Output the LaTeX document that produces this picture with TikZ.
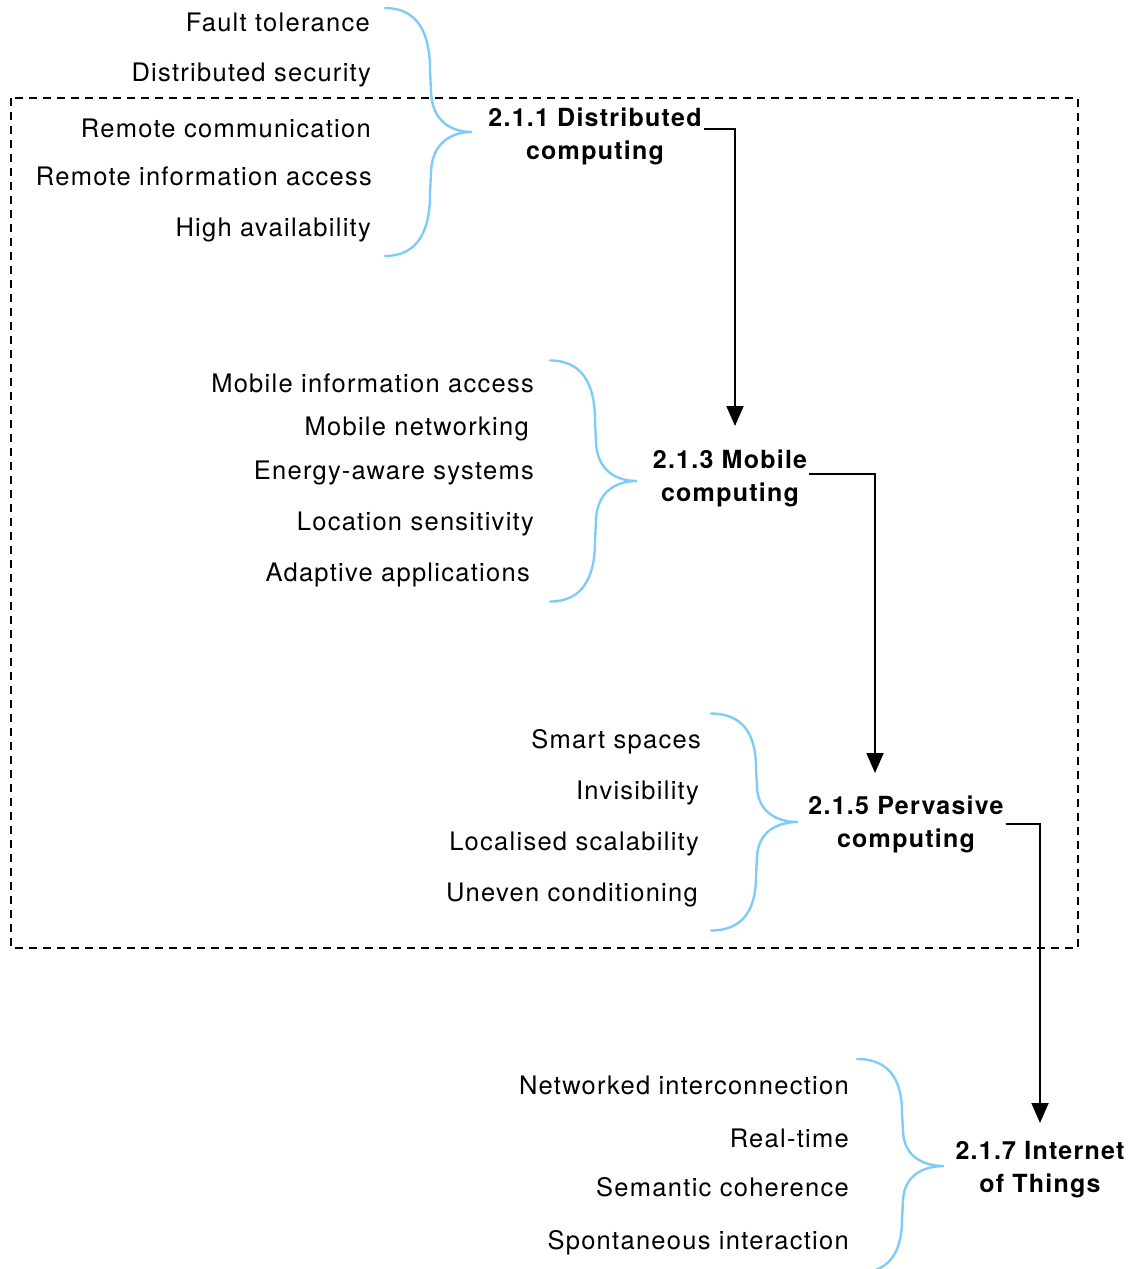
\documentclass[tikz,border=0pt]{standalone}
\usepackage{fontspec}
\usetikzlibrary{arrows.meta}
\newfontfamily\hv{TeX Gyre Heros}[LetterSpace=5]
\definecolor{bracecol}{RGB}{128,204,248}
\newcommand\sidebrace[3]{% #1 left x, #2 tip y, #3 vertical scale
  \begin{scope}[shift={(#1,#2)}, yscale=#3]
    \draw[bracestyle] (0,-124) .. controls (32,-124) and (45,-100) .. (45,-62)
      -- (46,-40) .. controls (47,-12) and (65,0) .. (87,0)
      .. controls (65,0) and (47,12) .. (46,40)
      -- (45,62) .. controls (45,100) and (32,124) .. (0,124);
  \end{scope}}
\begin{document}
\begin{tikzpicture}[x=1pt,y=-1pt,
  item/.style={font=\hv\fontsize{25.5}{33}\selectfont, anchor=base east, inner sep=0pt},
  topic/.style={font=\hv\bfseries\fontsize{25}{33}\selectfont, align=center, anchor=base, inner sep=0pt},
  bracestyle/.style={draw=bracecol, line width=2.4pt, line cap=round},
  arr/.style={line width=1.9pt, -{Triangle[length=20pt,width=17pt]}},
  frame/.style={line width=1.7pt, dash pattern=on 8pt off 6pt}]
\clip (0,0) rectangle (1139,1269);
\fill[white] (0,0) rectangle (1139,1269);

% scope of the dashed frame
\draw[frame] (11,98) rectangle (1078,948);

% 2.1.1 distributed computing
\node[item] (f1) at (370,31) {Fault tolerance};
\node[item] (f2) at (371,81) {Distributed security};
\node[item] (f3) at (371,137) {Remote communication};
\node[item] (f4) at (372,185) {Remote information access};
\node[item] (f5) at (371,236) {High availability};
\sidebrace{385}{132}{1}
\node[topic] (d1) at (595,159) {2.1.1 Distributed\\computing};

% 2.1.3 mobile computing
\node[item] (m1) at (534,392) {Mobile information access};
\node[item] (m2) at (529,435) {Mobile networking};
\node[item] (m3) at (534,479) {Energy-aware systems};
\node[item] (m4) at (534,530) {Location sensitivity};
\node[item] (m5) at (530,581) {Adaptive applications};
\sidebrace{550}{481}{0.972}
\node[topic] (d2) at (730,501) {2.1.3 Mobile\\computing};

% 2.1.5 pervasive computing
\node[item] (p1) at (701,748) {Smart spaces};
\node[item] (p2) at (699,799) {Invisibility};
\node[item] (p3) at (699,850) {Localised scalability};
\node[item] (p4) at (698,901) {Uneven conditioning};
\sidebrace{711}{822}{0.875}
\node[topic] (d3) at (906,847) {2.1.5 Pervasive\\computing};

% 2.1.7 internet of things
\node[item] (i1) at (849,1094) {Networked interconnection};
\node[item] (i2) at (849,1147) {Real-time};
\node[item] (i3) at (849,1196) {Semantic coherence};
\node[item] (i4) at (849,1249) {Spontaneous interaction};
\sidebrace{857}{1166}{0.863}
\node[topic] (d4) at (1040,1192) {2.1.7 Internet\\of Things};

% evolution arrows
\coordinate (t1) at (735,426);
\coordinate (t2) at (875,773);
\coordinate (t3) at (1040,1123);
\draw[arr] ([xshift=2pt,yshift=30pt]d1.base east) -| (t1);
\draw[arr] ([xshift=2pt,yshift=27pt]d2.base east) -| (t2);
\draw[arr] ([xshift=2pt,yshift=23pt]d3.base east) -| (t3);
\end{tikzpicture}
\end{document}
